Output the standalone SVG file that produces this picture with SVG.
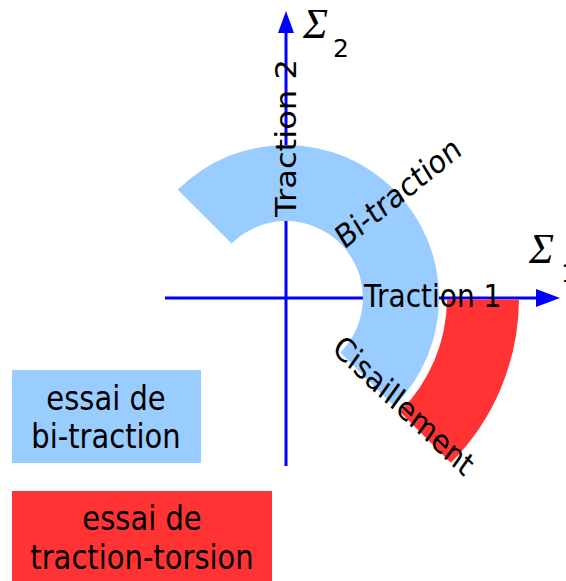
<svg xmlns="http://www.w3.org/2000/svg" width="566" height="581" viewBox="0 0 566 581">
<style>
.lbl{font-family:"DejaVu Sans","Liberation Sans",sans-serif;font-size:28px;fill:#000}
.leg{font-family:"DejaVu Sans","Liberation Sans",sans-serif;font-size:29px;fill:#000;text-anchor:middle}
.sig{font-family:"Liberation Serif","DejaVu Serif",serif;font-style:italic;font-size:42px;fill:#000}
.sub{font-family:"DejaVu Sans","Liberation Sans",sans-serif;font-size:25px;fill:#000}
.axis{stroke:#0000FF;stroke-width:3;fill:none}
.arrow{fill:#0000FF}
</style>
<rect width="566" height="581" fill="#fff"/>
<g id="connectors">
<line class="axis" x1="286" y1="466" x2="286" y2="32"/>
<polygon class="arrow" points="278,33 294,33 286,11"/>
<line class="axis" x1="165" y1="298" x2="537" y2="298"/>
<polygon class="arrow" points="536,289 536,307 560,298"/>
</g>
<g id="bi-traction-zone">
<path d="M177.8,189.8 A153,153 0 0 1 394.2,189.8 A153,153 0 0 1 394.2,406.2 L340.4,352.4 A77,77 0 0 0 340.4,243.6 A77,77 0 0 0 231.6,243.6 Z" fill="#99CCFF"/>
</g>
<g id="traction-torsion-zone">
<path d="M447,299.5 L519,299.5 A233,233 0 0 1 450.8,462.8 L399.8,411.8 A161,161 0 0 0 447,299.5 Z" fill="#FF3333"/>
</g>
<g id="labels">
<text class="lbl" font-size="25" transform="translate(296,217) scale(1,1.15) rotate(-90)">Traction 2</text>
<text class="lbl" font-size="29" transform="translate(364,307) scale(1,1.15)">Traction 1</text>
<text class="lbl" transform="translate(344,250) scale(1,1.15) rotate(-35)">Bi-traction</text>
<text class="lbl" transform="translate(331,351) scale(1,1.15) rotate(39.5)">Cisaillement</text>
</g>
<g id="sigma2">
<text class="sig" x="303" y="38">Σ</text>
<text class="sub" x="333" y="57">2</text>
</g>
<g id="sigma1">
<text class="sig" x="529" y="263">Σ</text>
<text class="sub" x="561" y="282">1</text>
</g>
<g id="legend-bi">
<rect x="12" y="370" width="189" height="93" fill="#99CCFF"/>
<text class="leg" transform="translate(106,410) scale(1,1.15)">essai de</text>
<text class="leg" transform="translate(106,448) scale(1,1.15)">bi-traction</text>
</g>
<g id="legend-tt">
<rect x="12" y="491" width="260" height="90" fill="#FF3333"/>
<text class="leg" transform="translate(142,530) scale(1,1.15)">essai de</text>
<text class="leg" transform="translate(142,569) scale(1,1.15)">traction-torsion</text>
</g>
</svg>
